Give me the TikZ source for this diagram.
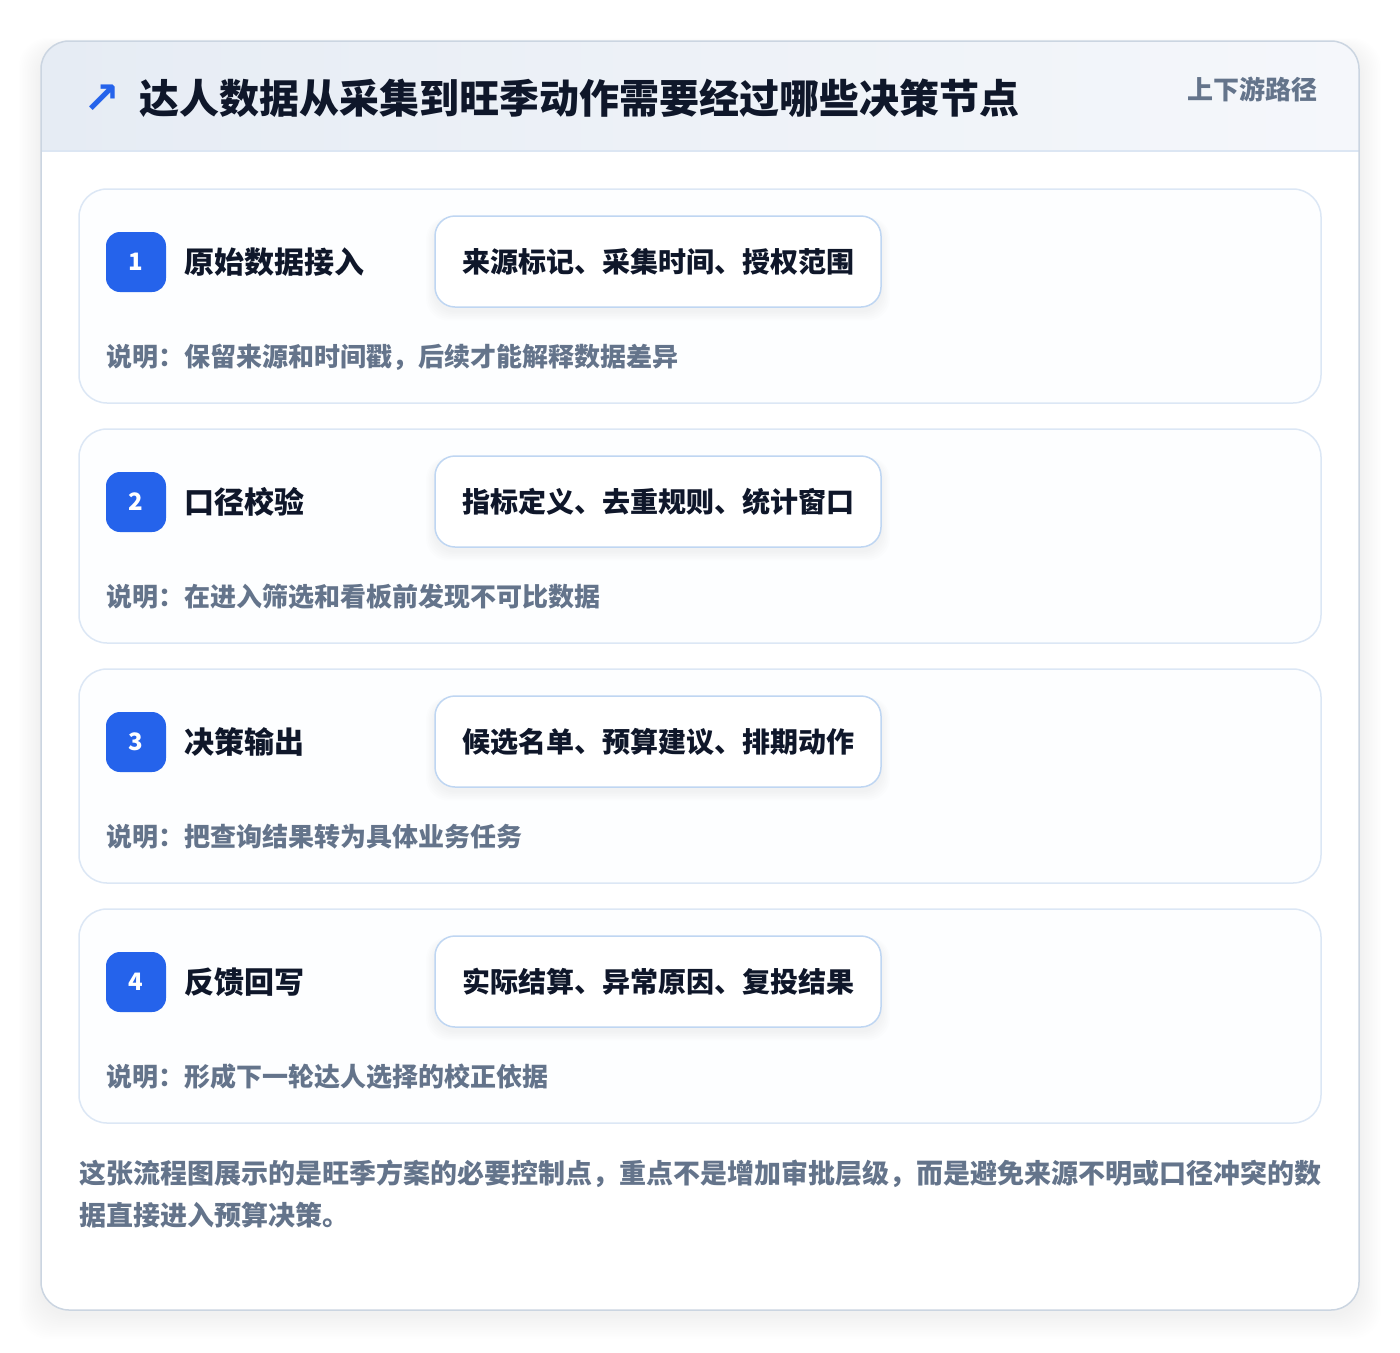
\documentclass[tikz,border=0pt]{standalone}
\usepackage{fontspec}
\setmainfont{Noto Sans CJK SC}
\newfontfamily\symfont{DejaVu Sans}
\usetikzlibrary{positioning}

\definecolor{cardline}{HTML}{CBD5E1}
\definecolor{hdrL}{HTML}{E6ECF4}
\definecolor{hdrR}{HTML}{F5F7FB}
\definecolor{hdrline}{HTML}{DCE6F3}
\definecolor{stepline}{HTML}{DCE7F5}
\definecolor{stepfill}{HTML}{FDFEFF}
\definecolor{tagline}{HTML}{BFD6F2}
\definecolor{badgeblue}{HTML}{2563EB}
\definecolor{ink}{HTML}{0F172A}
\definecolor{muted}{HTML}{64748B}

\tikzset{
  stepcard/.style={draw=stepline, line width=1.5pt, fill=stepfill, rounded corners=28pt,
    minimum width=1242pt, minimum height=214pt, inner sep=0pt},
  badge/.style={fill=badgeblue, rounded corners=14pt, minimum size=60pt, inner sep=0pt,
    text=white, font=\fontsize{24}{28}\selectfont\bfseries},
  steptitle/.style={anchor=west, inner sep=0pt, text=ink, font=\fontsize{30}{36}\selectfont\bfseries},
  tagbox/.style={draw=tagline, line width=1.5pt, fill=white, rounded corners=20pt,
    minimum width=446pt, minimum height=91pt, inner sep=0pt, text=ink,
    font=\fontsize{28}{34}\selectfont\bfseries},
  desc/.style={anchor=west, inner sep=0pt, text=muted, font=\fontsize{26}{32}\selectfont\bfseries}
}

\begin{document}
\begin{tikzpicture}[x=1pt, y=-1pt]
    \useasboundingbox (0,0) rectangle (1400,1352);
    \fill[white] (0,0) rectangle (1400,1352);

    % soft shadow round the card
    \foreach \i in {1,...,14} {
        \fill[black, opacity=0.005, rounded corners=30pt]
            (41-\i*1.6, 41-\i*0.8+8) rectangle (1359+\i*1.6, 1310+\i*1.8+4);
    }

    % outer card and header band
    \fill[white, rounded corners=28pt] (41,41) rectangle (1359,1310);
    \begin{scope}
        \clip[rounded corners=28pt] (41,41) rectangle (1359,1310);
        \shade[left color=hdrL, right color=hdrR] (41,41) rectangle (1359,151);
        \draw[hdrline, line width=1.5pt] (41,151) -- (1359,151);
    \end{scope}
    \draw[cardline, line width=1.5pt, rounded corners=28pt] (41,41) rectangle (1359,1310);

    % header texts
    \node[inner sep=0pt, text=badgeblue, font=\symfont\fontsize{44}{48}\selectfont\bfseries] (icon) at (102,99) {↗};
    \node[anchor=west, inner sep=0pt, text=ink, font=\fontsize{40}{48}\selectfont\bfseries]
        (heading) at (139,98) {达人数据从采集到旺季动作需要经过哪些决策节点};
    \node[anchor=east, inner sep=0pt, text=muted, font=\fontsize{26}{32}\selectfont\bfseries]
        (path) at (1318,89) {上下游路径};

    % steps
    \foreach \n/\ttl/\stag/\desc [count=\i from 0] in {
        1/原始数据接入/来源标记、采集时间、授权范围/说明：保留来源和时间戳，后续才能解释数据差异,
        2/口径校验/指标定义、去重规则、统计窗口/说明：在进入筛选和看板前发现不可比数据,
        3/决策输出/候选名单、预算建议、排期动作/说明：把查询结果转为具体业务任务,
        4/反馈回写/实际结算、异常原因、复投结果/说明：形成下一轮达人选择的校正依据} {
        \pgfmathsetmacro\yt{189+240*\i}
        \node[stepcard] (card\n) at (700, \yt+107) {};
        \node[badge] (badge\n) at (136, \yt+73) {\n};
        \node[steptitle, right=18pt of badge\n] (title\n) {\ttl};
        % shadow under the tag box
        \foreach \j in {1,...,6} {
            \fill[black, opacity=0.008, rounded corners=22pt]
                (435-\j*1.5, \yt+27-\j*0.5+4) rectangle (881+\j*1.5, \yt+118+\j*1.6+4);
        }
        \node[tagbox] (tag\n) at (658, \yt+72.5) {\stag};
        \node[desc] (desc\n) at (106, \yt+168) {\desc};
    }

    % closing note
    \node[anchor=north west, inner sep=0pt, align=left, text=muted,
          font=\fontsize{27}{42}\selectfont\bfseries] (note) at (79,1160)
        {这张流程图展示的是旺季方案的必要控制点，重点不是增加审批层级，而是避免来源不明或口径冲突的数\\
         据直接进入预算决策。};
\end{tikzpicture}
\end{document}
